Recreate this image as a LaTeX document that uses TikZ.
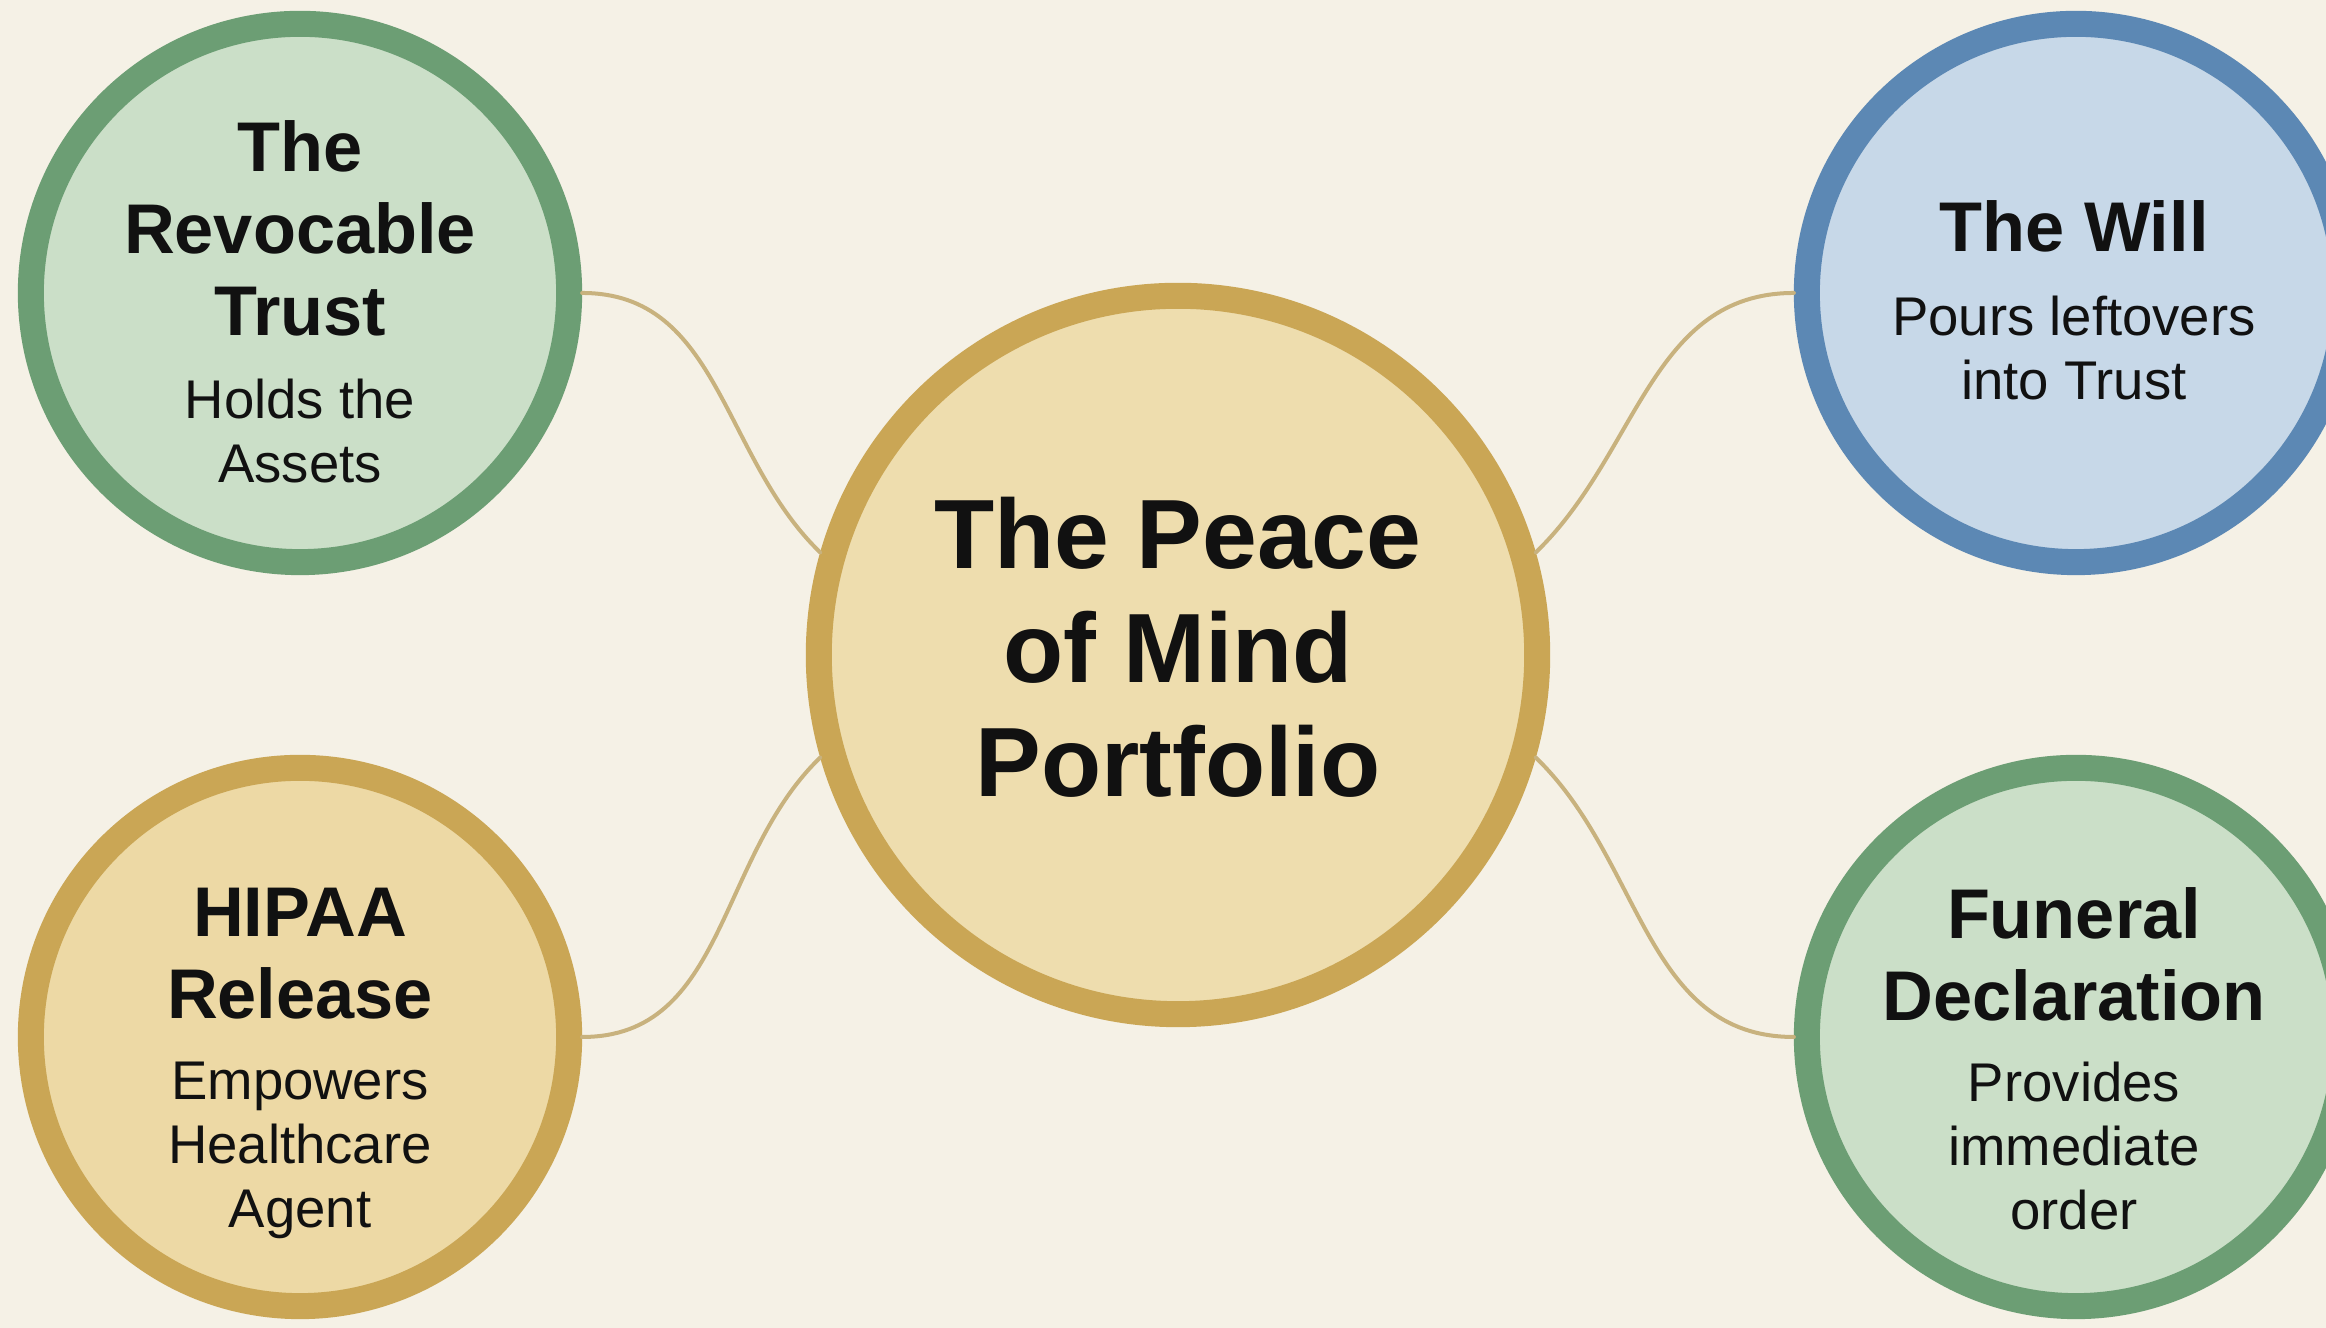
\documentclass[tikz,border=0pt]{standalone}
\usepackage{fontspec}
\setmainfont{Liberation Sans}
\definecolor{bgc}{HTML}{F5F1E6}
\definecolor{greenring}{HTML}{6C9E74}
\definecolor{greenfill}{HTML}{CBDFC8}
\definecolor{bluering}{HTML}{5C88B4}
\definecolor{bluefill}{HTML}{C7D8E8}
\definecolor{goldring}{HTML}{CAA655}
\definecolor{goldfill}{HTML}{EEDDAE}
\definecolor{goldfillb}{HTML}{EDD9A5}
\definecolor{linkc}{HTML}{C8B27E}
\definecolor{inkc}{HTML}{111111}
\begin{document}
\begin{tikzpicture}[x=0.01cm,y=0.01cm,
  ring/.style={circle, line width=0.26cm, inner sep=0pt},
  small/.style={ring, minimum size=5.38cm},
  big/.style={ring, minimum size=7.18cm},
  greenc/.style={draw=greenring, fill=greenfill},
  bluec/.style={draw=bluering, fill=bluefill},
  goldc/.style={draw=goldring, fill=goldfill},
  goldcb/.style={draw=goldring, fill=goldfillb},
  ttl/.style={font=\fontsize{20}{23.3}\selectfont\bfseries, align=center, inner sep=0pt, text=inkc, anchor=north},
  sub/.style={font=\fontsize{15.5}{18.2}\selectfont, align=center, inner sep=0pt, text=inkc, anchor=north},
  ctr/.style={font=\fontsize{28}{32.5}\selectfont\bfseries, align=center, inner sep=0pt, text=inkc, anchor=north},
  link/.style={draw=linkc, line width=0.04cm, line cap=round}
]
\fill[bgc] (0,0) rectangle (2326,1328);
\useasboundingbox (0,0) rectangle (2326,1328);

% circles
\node[big, goldc] (c) at (1178,673) {};
\node[small, greenc] (tl) at (300,1035) {};
\node[small, bluec] (tr) at (2076,1035) {};
\node[small, goldcb] (bl) at (300,291) {};
\node[small, greenc] (br) at (2076,291) {};

% connectors
\draw[link] (tl.east) to[out=0, in=136] (c.164);
\draw[link] (c.16) to[out=44, in=180] (tr.west);
\draw[link] (bl.east) to[out=0, in=-136] (c.196);
\draw[link] (c.-16) to[out=-44, in=180] (br.west);

% texts
\node[ctr] (c-text) at (1178,832) {The Peace\\of Mind\\Portfolio};

\node[ttl] (tl-title) at (300,1208) {The\\Revocable\\Trust};
\node[sub] (tl-sub) at (300,950) {Holds the\\Assets};

\node[ttl] (tr-title) at (2074,1128) {The Will};
\node[sub] (tr-sub) at (2074,1033) {Pours leftovers\\into Trust};

\node[ttl] (bl-title) at (300,441) {HIPAA\\Release};
\node[sub] (bl-sub) at (300,267) {Empowers\\Healthcare\\Agent};

\node[ttl] (br-title) at (2074,441) {Funeral\\Declaration};
\node[sub] (br-sub) at (2074,267) {Provides\\immediate\\order};
\end{tikzpicture}
\end{document}
